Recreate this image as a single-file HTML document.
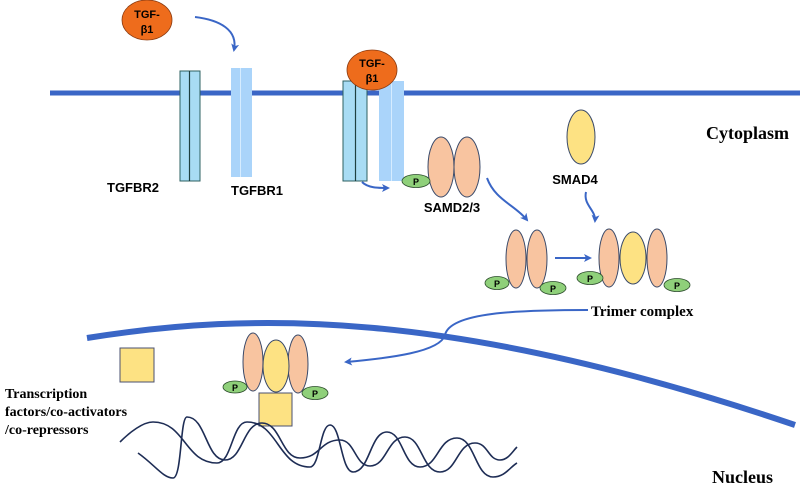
<!DOCTYPE html>
<html><head><meta charset="utf-8"><style>
html,body{margin:0;padding:0;background:#fff;}
svg{display:block;}
.s{font-family:"Liberation Sans",sans-serif;font-weight:bold;}
.r{font-family:"Liberation Serif",serif;font-weight:bold;}
</style></head><body>
<svg width="800" height="486" viewBox="0 0 800 486" xmlns="http://www.w3.org/2000/svg">
<defs>
<marker id="a" markerWidth="8" markerHeight="8" refX="6" refY="4" orient="auto" markerUnits="userSpaceOnUse"><path d="M0,0 L8,4 L0,8 L2,4z" fill="#3a66c6"/></marker>
</defs>
<line x1="50" y1="93" x2="800" y2="93" stroke="#3a66c6" stroke-width="5"/>
<ellipse cx="147" cy="20" rx="25" ry="20" fill="#ee6c1c" stroke="#8a3a10" stroke-width="0.8"/>
<text class="s" x="147" y="18" font-size="11" text-anchor="middle">TGF-</text>
<text class="s" x="147" y="33" font-size="11" text-anchor="middle">β1</text>
<path d="M195,17 C220,20 238,30 234,50" stroke="#3a66c6" stroke-width="2" fill="none" marker-end="url(#a)"/>
<rect x="180" y="71" width="20" height="110" fill="#a8dcf4" stroke="#2e6060" stroke-width="1"/>
<line x1="189.5" y1="71" x2="189.5" y2="181" stroke="#1e4040" stroke-width="1.2"/>
<rect x="231" y="68" width="21" height="109" fill="#aad4fa"/>
<line x1="240.5" y1="68" x2="240.5" y2="177" stroke="#d6ecff" stroke-width="1"/>
<text class="s" x="107" y="192" font-size="13">TGFBR2</text>
<text class="s" x="231" y="195" font-size="13">TGFBR1</text>
<rect x="343" y="81" width="24" height="100" fill="#a8dcf4" stroke="#2e6060" stroke-width="1"/>
<line x1="355.5" y1="81" x2="355.5" y2="181" stroke="#1e4040" stroke-width="1.2"/>
<rect x="379" y="81" width="25" height="100" fill="#aad4fa"/>
<line x1="391.5" y1="81" x2="391.5" y2="181" stroke="#d6ecff" stroke-width="1"/>
<ellipse cx="372" cy="70" rx="25" ry="20" fill="#ee6c1c" stroke="#8a3a10" stroke-width="0.8"/>
<text class="s" x="372" y="67" font-size="11" text-anchor="middle">TGF-</text>
<text class="s" x="372" y="82" font-size="11" text-anchor="middle">β1</text>
<path d="M362,182 C368,188 378,188 388,188" stroke="#3a66c6" stroke-width="2" fill="none" marker-end="url(#a)"/>
<ellipse cx="441" cy="167" rx="13" ry="30" fill="#f8c4a0" stroke="#3a4a6a" stroke-width="1"/>
<ellipse cx="467" cy="167" rx="13" ry="30" fill="#f8c4a0" stroke="#3a4a6a" stroke-width="1"/>
<ellipse cx="416" cy="181" rx="14" ry="6.5" fill="#8fd07a" stroke="#2a4a2a" stroke-width="0.8"/>
<text class="s" x="416" y="185" font-size="9" font-weight="normal" text-anchor="middle">P</text>
<text class="s" x="452" y="212" font-size="13" text-anchor="middle">SAMD2/3</text>
<ellipse cx="581" cy="137" rx="14" ry="27" fill="#fde283" stroke="#3a4a6a" stroke-width="1"/>
<text class="s" x="575" y="184" font-size="13" text-anchor="middle">SMAD4</text>
<text class="r" x="706" y="139" font-size="18">Cytoplasm</text>
<path d="M487,178 C495,200 515,205 527,220" stroke="#3a66c6" stroke-width="2" fill="none" marker-end="url(#a)"/>
<path d="M586,192 C583,205 596,210 595,221" stroke="#3a66c6" stroke-width="2" fill="none" marker-end="url(#a)"/>
<ellipse cx="516" cy="259" rx="10" ry="29" fill="#f8c4a0" stroke="#3a4a6a" stroke-width="1"/>
<ellipse cx="537" cy="259" rx="10" ry="29" fill="#f8c4a0" stroke="#3a4a6a" stroke-width="1"/>
<ellipse cx="497" cy="283" rx="12" ry="6.5" fill="#8fd07a" stroke="#2a4a2a" stroke-width="0.8"/>
<text class="s" x="497" y="287" font-size="9" font-weight="normal" text-anchor="middle">P</text>
<ellipse cx="553" cy="288" rx="13" ry="6.5" fill="#8fd07a" stroke="#2a4a2a" stroke-width="0.8"/>
<text class="s" x="553" y="292" font-size="9" font-weight="normal" text-anchor="middle">P</text>
<line x1="555" y1="258" x2="590" y2="258" stroke="#3a66c6" stroke-width="2" marker-end="url(#a)"/>
<ellipse cx="609" cy="258" rx="10" ry="29" fill="#f8c4a0" stroke="#3a4a6a" stroke-width="1"/>
<ellipse cx="657" cy="258" rx="10" ry="29" fill="#f8c4a0" stroke="#3a4a6a" stroke-width="1"/>
<ellipse cx="633" cy="258" rx="13" ry="26" fill="#fde283" stroke="#3a4a6a" stroke-width="1"/>
<ellipse cx="590" cy="278" rx="13" ry="6.5" fill="#8fd07a" stroke="#2a4a2a" stroke-width="0.8"/>
<text class="s" x="590" y="282" font-size="9" font-weight="normal" text-anchor="middle">P</text>
<ellipse cx="677" cy="285" rx="13" ry="6.5" fill="#8fd07a" stroke="#2a4a2a" stroke-width="0.8"/>
<text class="s" x="677" y="289" font-size="9" font-weight="normal" text-anchor="middle">P</text>
<text class="r" x="591" y="316" font-size="15">Trimer complex</text>
<path d="M87,338 C250,312 450,308 795,425" stroke="#3a66c6" stroke-width="6" fill="none"/>
<path d="M588,310 C520,310 450,312 445,335 C440,352 390,358 346,362" stroke="#3a66c6" stroke-width="2" fill="none" marker-end="url(#a)"/>
<rect x="120" y="348" width="34" height="34" fill="#fde283" stroke="#4a5070" stroke-width="1"/>
<ellipse cx="253" cy="362" rx="10" ry="29" fill="#f8c4a0" stroke="#3a4a6a" stroke-width="1"/>
<ellipse cx="298" cy="364" rx="10" ry="29" fill="#f8c4a0" stroke="#3a4a6a" stroke-width="1"/>
<ellipse cx="276" cy="366" rx="13" ry="26" fill="#fde283" stroke="#3a4a6a" stroke-width="1"/>
<ellipse cx="235" cy="387" rx="12" ry="6" fill="#8fd07a" stroke="#2a4a2a" stroke-width="0.8"/>
<text class="s" x="235" y="391" font-size="9" font-weight="normal" text-anchor="middle">P</text>
<ellipse cx="315" cy="393" rx="13" ry="6.5" fill="#8fd07a" stroke="#2a4a2a" stroke-width="0.8"/>
<text class="s" x="315" y="397" font-size="9" font-weight="normal" text-anchor="middle">P</text>
<rect x="259" y="393" width="33" height="33" fill="#fde283" stroke="#4a5070" stroke-width="1"/>
<path d="M120,442 C130,432 143,422 153,422 C185,422 185,463 217,463 C232,463 232,422 247,422 C278,422 278,467 310,467 C320,467 320,425 330,425 C341,425 341,472 353,472 C370,472 370,432 387,432 C403,432 403,467 420,467 C438,467 438,438 457,438 C475,438 475,477 493,477 C505,477 510,467 517,463" stroke="#1e2d55" stroke-width="1.6" fill="none"/>
<path d="M138,453 C155,465 163,478 173,478 C182,478 180,417 187,417 C206,417 206,460 225,460 C243,460 243,423 262,423 C281,423 281,458 300,458 C320,458 320,440 340,440 C355,440 355,466 370,466 C387,466 387,437 405,437 C422,437 422,472 440,472 C457,472 457,443 475,443 C488,443 488,460 500,460 C508,460 512,452 517,447" stroke="#1e2d55" stroke-width="1.6" fill="none"/>
<text class="r" x="5" y="398" font-size="14">Transcription</text>
<text class="r" x="5" y="416" font-size="14">factors/co-activators</text>
<text class="r" x="5" y="434" font-size="14">/co-repressors</text>
<text class="r" x="712" y="483" font-size="18">Nucleus</text>
</svg>
</body></html>
